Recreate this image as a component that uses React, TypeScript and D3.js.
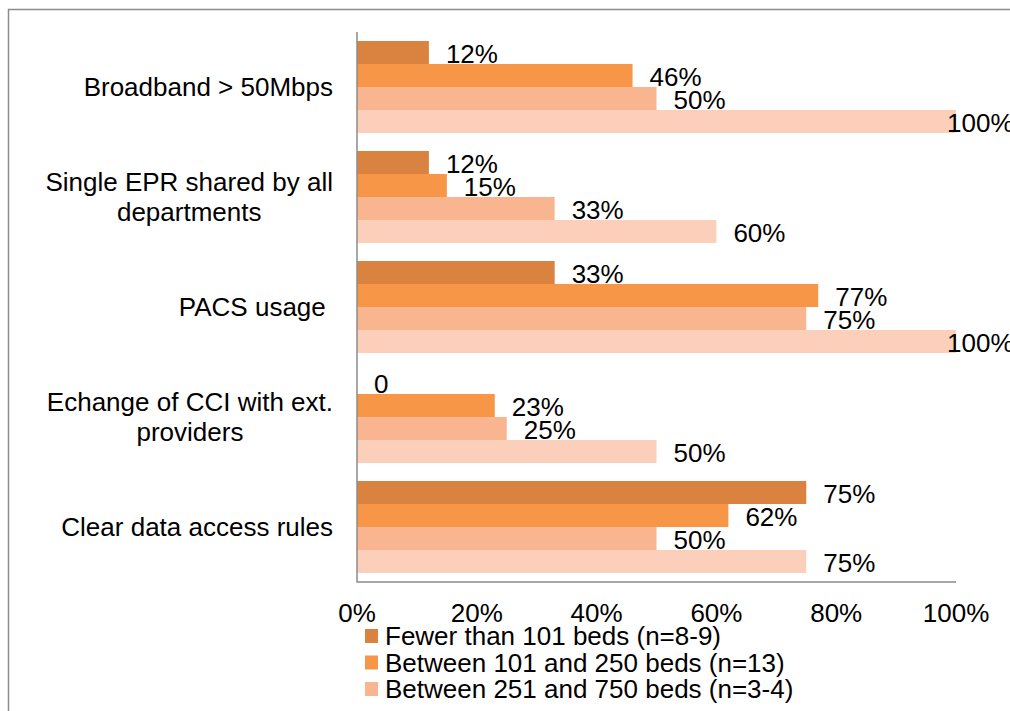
import * as d3 from 'd3'
import React from 'react'

const categories = [
  ['Broadband > 50Mbps'],
  ['Single EPR shared by all', 'departments'],
  ['PACS usage '],
  ['Echange of CCI with ext.', 'providers'],
  ['Clear data access rules'],
]
// only the first three legend rows fit in the picture
const seriesNames = [
  'Fewer than 101 beds (n=8-9)',
  'Between 101 and 250 beds (n=13)',
  'Between 251 and 750 beds (n=3-4)',
]
const seriesColors = ['#DA823F', '#F79646', '#F9B590', '#FBCFBA']
const fewer101 = [12, 12, 33, 0, 75]
const between101_250 = [46, 15, 77, 23, 62]
const between251_750 = [50, 33, 75, 25, 50]
const over750 = [100, 60, 100, 50, 75]
const xTicks = [0, 20, 40, 60, 80, 100]

const W = 1010, H = 711
const FONT = '"Liberation Sans", Arial, sans-serif'

export default function App() {
  const ref = React.useRef<SVGSVGElement>(null)

  React.useLayoutEffect(() => {
    const svg = d3.select(ref.current!)
    svg.selectAll('*').remove()

    const
      series = [fewer101, between101_250, between251_750, over750],
      left = 357, right = 956, top = 32, bottom = 582,
      x = d3.scaleLinear().domain([0, 100]).range([left, right]),
      y = d3.scaleBand<number>().domain(d3.range(categories.length)).range([top, bottom]).paddingInner(18 / 110).paddingOuter(9 / 110),
      yi = d3.scaleBand<number>().domain(d3.range(series.length)).range([0, y.bandwidth()])

    // outer frame (right and bottom edges fall outside the picture)
    svg.append('rect').attr('x', 8.5).attr('y', 9.5).attr('width', W + 40).attr('height', H + 40)
      .attr('fill', 'none').attr('stroke', '#8c8c8c').attr('stroke-width', 1.5)

    const g = svg.append('g').attr('font-family', FONT).attr('font-size', 26)

    // bars
    categories.forEach((_, ci) => {
      series.forEach((s, si) => {
        const v = s[ci], by = y(ci)! + yi(si)!
        g.append('rect')
          .attr('x', x(0)).attr('y', by)
          .attr('width', x(v) - x(0)).attr('height', yi.bandwidth())
          .attr('fill', seriesColors[si])
        const lx = Math.min(x(v) + 17, x(100) - 9)
        g.append('text')
          .attr('x', lx).attr('y', by + yi.bandwidth() / 2 + 10)
          .attr('fill', '#000')
          .text(v === 0 ? '0' : `${v}%`)
      })
    })

    // axis lines
    g.append('path')
      .attr('d', `M${left},${top}V${bottom}H${right}`)
      .attr('fill', 'none').attr('stroke', '#8c8c8c').attr('stroke-width', 1.5)

    // category labels
    categories.forEach((lines, ci) => {
      const cy = y(ci)! + y.bandwidth() / 2
      const t = g.append('text').attr('fill', '#000').style('white-space', 'pre')
      lines.forEach((line, li) => {
        t.append('tspan')
          .attr('y', cy + 9 + (li - (lines.length - 1) / 2) * 30)
          .text(line)
      })
      if (lines.length === 1) {
        t.attr('text-anchor', 'end').selectAll('tspan').attr('x', 333)
      } else {
        let maxW = 0
        t.selectAll<SVGTSpanElement, unknown>('tspan').each(function () {
          maxW = Math.max(maxW, this.getComputedTextLength())
        })
        t.attr('text-anchor', 'middle').selectAll('tspan').attr('x', 333 - maxW / 2)
      }
    })

    // x tick labels
    xTicks.forEach(tv => {
      g.append('text')
        .attr('x', x(tv)).attr('y', 622)
        .attr('text-anchor', 'middle').attr('fill', '#000')
        .text(`${tv}%`)
    })

    // legend
    seriesNames.forEach((name, si) => {
      const ly = 636 + si * 26.5
      g.append('rect').attr('x', 365).attr('y', ly - 7).attr('width', 13).attr('height', 14)
        .attr('fill', seriesColors[si])
      g.append('text').attr('x', 385).attr('y', ly + 9).attr('fill', '#000').text(name)
    })
  }, [])

  return (
    <svg ref={ref} width={W} height={H}
      style={{ position: 'absolute', left: 0, top: 0, background: '#fff' }} />
  )
}
